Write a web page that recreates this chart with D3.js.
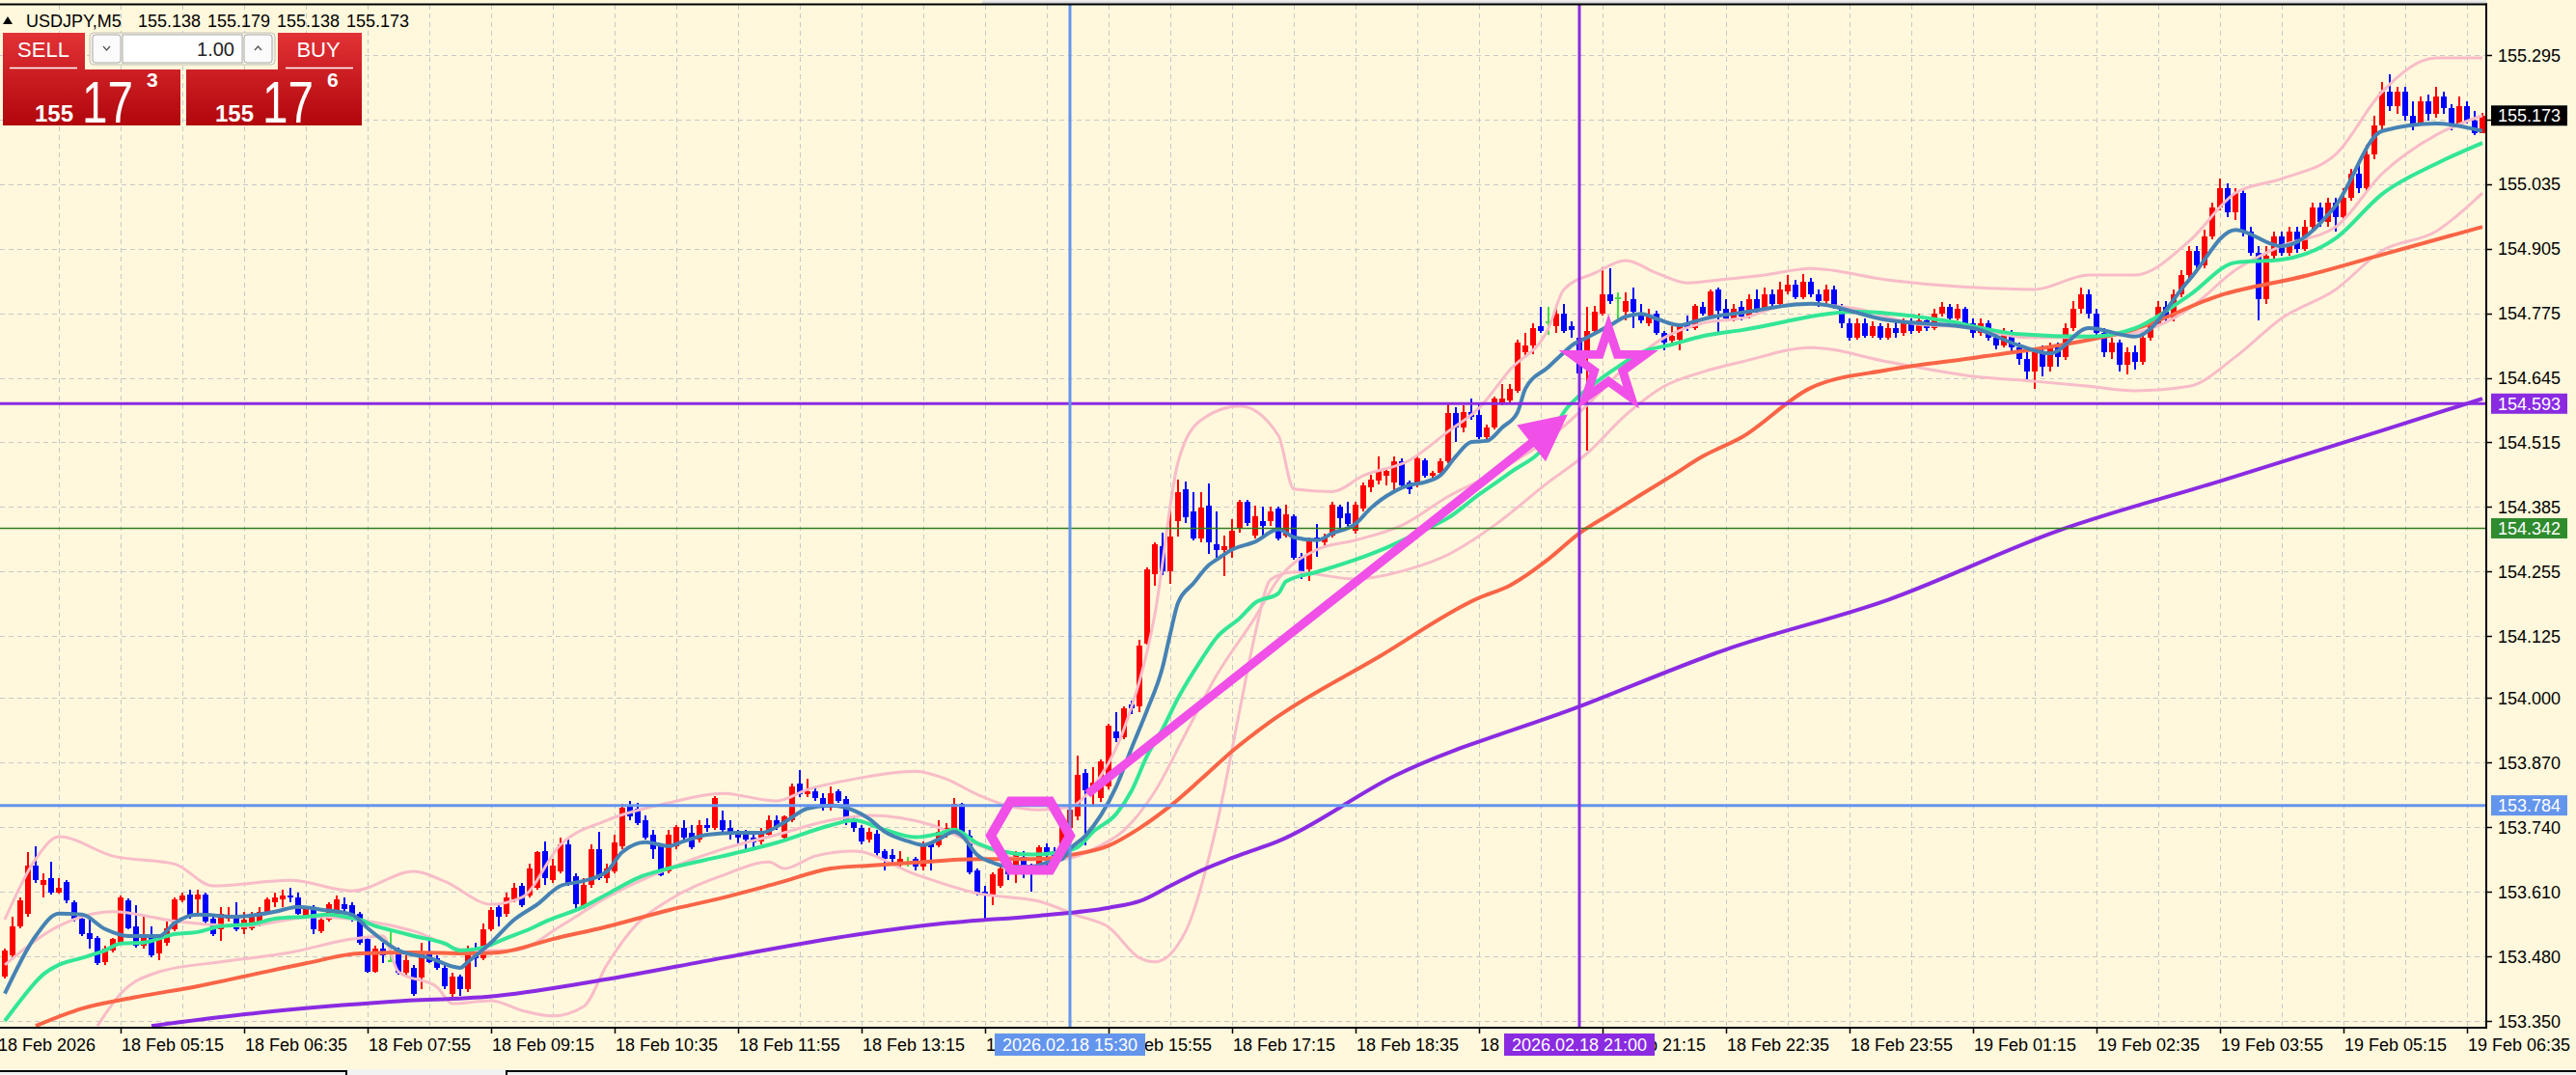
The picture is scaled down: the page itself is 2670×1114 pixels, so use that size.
<!DOCTYPE html>
<html><head><meta charset="utf-8">
<script src="https://cdn.jsdelivr.net/npm/d3@7"></script>
<style>html,body{margin:0;padding:0;background:#FFF8DC;overflow:hidden}text{font-family:"Liberation Sans",Arial,sans-serif}</style>
</head><body><svg id="c" width="2670" height="1114"></svg>
<script>
// ---------------- DATA ----------------
const symbol = "USDJPY,M5";
const headerPrices = ["155.138","155.179","155.138","155.173"];
const priceTicks = [155.295,155.165,155.035,154.905,154.775,154.645,154.515,154.385,154.255,154.125,154.000,153.870,153.740,153.610,153.480,153.350];
const timeTickBars = [-1,15,31,47,63,79,95,111,127,143,159,175,191,207,223,239,255,271,287,303,319];
const timeTickLabels = ["18 Feb 2026","18 Feb 05:15","18 Feb 06:35","18 Feb 07:55","18 Feb 09:15","18 Feb 10:35","18 Feb 11:55","18 Feb 13:15","18 Feb 14:35","18 Feb 15:55","18 Feb 17:15","18 Feb 18:35","18 Feb 19:55","18 Feb 21:15","18 Feb 22:35","18 Feb 23:55","19 Feb 01:15","19 Feb 02:35","19 Feb 03:55","19 Feb 05:15","19 Feb 06:35"];

const open = [
153.440,153.483,153.541,153.566,153.663,153.624,153.638,153.609,153.630,153.589,
153.556,153.527,153.517,153.469,153.492,153.508,153.593,153.541,153.502,153.525,
153.486,153.508,153.535,153.593,153.605,153.595,153.605,153.556,153.535,153.556,
153.564,153.535,153.537,153.547,153.570,153.589,153.595,153.603,153.599,153.560,
153.580,153.531,153.554,153.560,153.585,153.584,153.566,153.515,153.449,153.496,
153.473,153.488,153.448,153.457,153.438,153.488,153.477,153.457,153.405,153.440,
153.415,153.492,153.477,153.535,153.580,153.566,153.595,153.622,153.603,153.618,
153.692,153.634,153.652,153.706,153.642,153.580,153.624,153.696,153.638,153.652,
153.702,153.784,153.778,153.754,153.725,153.702,153.652,153.702,153.739,153.729,
153.716,153.745,153.739,153.754,153.739,153.725,153.725,153.720,153.712,153.725,
153.754,153.720,153.754,153.828,153.807,153.813,153.799,153.780,153.813,153.797,
153.754,153.739,153.716,153.727,153.692,153.685,153.669,153.671,153.677,153.661,
153.708,153.704,153.727,153.731,153.788,153.723,153.654,153.611,153.603,153.622,
153.657,153.661,153.681,153.661,153.661,153.700,153.692,153.677,153.739,153.761,
153.850,153.822,153.799,153.822,153.933,153.922,153.988,153.984,154.110,154.250,
154.306,154.256,154.357,154.421,154.376,154.322,154.388,154.310,154.299,154.299,
154.341,154.396,154.328,154.357,154.357,154.382,154.328,154.367,154.285,154.260,
154.324,154.314,154.328,154.386,154.372,154.337,154.382,154.425,154.439,154.448,
154.435,154.477,154.435,154.431,154.479,154.448,154.454,154.477,154.574,154.545,
154.576,154.571,154.526,154.545,154.596,154.600,154.619,154.697,154.710,154.749,
154.759,154.749,154.775,154.749,154.726,154.693,154.740,154.775,154.813,154.808,
154.778,154.804,154.775,154.755,154.775,154.736,154.720,154.722,154.755,154.745,
154.788,154.771,154.823,154.784,154.765,154.788,154.769,154.804,154.784,154.813,
154.794,154.819,154.833,154.808,154.839,154.813,154.800,154.823,154.788,154.755,
154.726,154.755,154.730,154.749,154.726,154.745,154.736,154.755,154.740,154.761,
154.745,154.775,154.788,154.765,154.784,154.755,154.736,154.755,154.726,154.710,
154.736,154.707,154.683,154.658,154.697,154.668,154.707,154.687,154.745,154.784,
154.813,154.775,154.736,154.697,154.716,154.672,154.697,154.677,154.726,154.755,
154.788,154.765,154.813,154.852,154.901,154.872,154.930,154.988,155.027,154.979,
155.017,154.940,154.897,154.804,154.891,154.930,154.897,154.940,154.905,154.949,
154.988,154.959,154.998,154.969,155.008,155.056,155.027,155.095,155.153,155.221,
155.192,155.221,155.173,155.157,155.202,155.177,155.212,155.188,155.153,155.192,
155.163,155.138];
const high = [
153.496,153.560,153.599,153.690,153.702,153.648,153.671,153.638,153.634,153.593,
153.560,153.554,153.521,153.502,153.517,153.603,153.597,153.584,153.564,153.541,
153.521,153.550,153.599,153.609,153.615,153.615,153.609,153.560,153.580,153.580,
153.589,153.570,153.570,153.580,153.599,153.609,153.615,153.618,153.609,153.580,
153.584,153.560,153.589,153.603,153.599,153.589,153.570,153.521,153.502,153.508,
153.531,153.498,153.483,153.463,153.508,153.521,153.483,153.463,153.448,153.444,
153.502,153.508,153.547,153.580,153.584,153.609,153.628,153.628,153.667,153.692,
153.712,153.677,153.720,153.716,153.648,153.638,153.706,153.731,153.667,153.725,
153.788,153.793,153.790,153.764,153.735,153.706,153.735,153.745,153.754,153.745,
153.754,153.758,153.803,153.774,153.754,153.735,153.735,153.731,153.739,153.764,
153.764,153.764,153.828,153.856,153.838,153.822,153.809,153.822,153.817,153.803,
153.764,153.745,153.739,153.735,153.696,153.696,153.692,153.681,153.681,153.712,
153.712,153.754,153.749,153.799,153.790,153.735,153.657,153.622,153.650,153.661,
153.667,153.692,153.692,153.667,153.704,153.708,153.700,153.758,153.807,153.885,
153.857,153.861,153.877,153.949,153.972,153.984,153.995,154.118,154.264,154.314,
154.334,154.396,154.440,154.437,154.415,154.415,154.433,154.376,154.328,154.361,
154.400,154.400,154.388,154.386,154.386,154.386,154.390,154.370,154.293,154.324,
154.351,154.332,154.396,154.390,154.396,154.396,154.435,154.450,154.487,154.464,
154.487,154.483,154.438,154.487,154.483,154.458,154.483,154.596,154.586,154.590,
154.604,154.596,154.551,154.607,154.633,154.633,154.722,154.736,154.755,154.788,
154.788,154.788,154.794,154.759,154.808,154.788,154.790,154.868,154.866,154.817,
154.817,154.827,154.794,154.784,154.780,154.740,154.749,154.755,154.771,154.794,
154.798,154.823,154.827,154.804,154.794,154.800,154.813,154.823,154.827,154.823,
154.839,154.852,154.843,154.854,154.846,154.823,154.833,154.831,154.794,154.765,
154.765,154.765,154.759,154.755,154.755,154.757,154.765,154.765,154.775,154.769,
154.784,154.798,154.794,154.794,154.788,154.765,154.765,154.761,154.736,154.745,
154.742,154.716,154.697,154.707,154.710,154.716,154.716,154.755,154.800,154.827,
154.823,154.784,154.745,154.726,154.722,154.707,154.710,154.736,154.765,154.800,
154.800,154.823,154.862,154.911,154.911,154.944,154.998,155.047,155.037,155.027,
155.023,154.949,154.911,154.911,154.940,154.940,154.949,154.949,154.963,154.998,
154.998,155.008,155.008,155.027,155.066,155.076,155.115,155.173,155.241,155.256,
155.231,155.231,155.202,155.212,155.216,155.231,155.221,155.196,155.212,155.202,
155.183,155.179];
const low = [
153.436,153.479,153.537,153.560,153.628,153.599,153.605,153.607,153.587,153.550,
153.521,153.496,153.463,153.463,153.488,153.506,153.535,153.498,153.496,153.479,
153.473,153.502,153.531,153.589,153.556,153.560,153.547,153.521,153.512,153.550,
153.531,153.525,153.533,153.541,153.566,153.580,153.580,153.589,153.564,153.556,
153.525,153.527,153.550,153.556,153.570,153.550,153.504,153.448,153.448,153.467,
153.469,153.444,153.440,153.401,153.415,153.467,153.453,153.415,153.391,153.401,
153.409,153.459,153.473,153.531,153.541,153.560,153.589,153.580,153.599,153.615,
153.624,153.628,153.648,153.622,153.576,153.576,153.618,153.634,153.628,153.648,
153.696,153.754,153.745,153.716,153.677,153.642,153.648,153.696,153.712,153.696,
153.710,153.731,153.735,153.725,153.716,153.706,153.696,153.700,153.706,153.720,
153.735,153.716,153.751,153.801,153.801,153.793,153.774,153.774,153.790,153.745,
153.731,153.706,153.710,153.681,153.654,153.669,153.661,153.661,153.654,153.654,
153.654,153.700,153.720,153.727,153.723,153.646,153.603,153.554,153.584,153.618,
153.634,153.628,153.638,153.611,153.657,153.661,153.671,153.673,153.735,153.754,
153.704,153.784,153.792,153.817,153.912,153.918,153.968,153.972,154.108,154.227,
154.248,154.231,154.326,154.353,154.318,154.314,154.291,154.279,154.246,154.283,
154.334,154.347,154.322,154.322,154.347,154.318,154.324,154.279,154.240,154.236,
154.285,154.308,154.324,154.343,154.347,154.332,154.376,154.415,154.431,154.429,
154.419,154.425,154.411,154.425,154.444,154.442,154.448,154.473,154.516,154.536,
154.561,154.522,154.516,154.541,154.590,154.596,154.615,154.691,154.693,154.736,
154.732,154.736,154.736,154.726,154.629,154.499,154.736,154.771,154.794,154.759,
154.761,154.745,154.755,154.749,154.732,154.701,154.716,154.701,154.740,154.742,
154.771,154.765,154.736,154.759,154.759,154.761,154.765,154.775,154.780,154.788,
154.788,154.813,154.804,154.804,154.808,154.788,154.794,154.784,154.745,154.720,
154.722,154.726,154.726,154.722,154.722,154.726,154.730,154.734,154.736,154.740,
154.742,154.769,154.759,154.761,154.749,154.726,154.730,154.720,154.703,154.707,
154.697,154.672,154.639,154.623,154.648,154.658,154.668,154.681,154.740,154.775,
154.765,154.730,154.687,154.683,154.658,154.652,154.662,154.672,154.720,154.749,
154.755,154.759,154.808,154.846,154.862,154.866,154.924,154.982,154.969,154.963,
154.930,154.891,154.761,154.794,154.881,154.891,154.891,154.897,154.901,154.940,
154.949,154.949,154.940,154.963,155.002,155.017,155.021,155.085,155.144,155.183,
155.177,155.163,155.144,155.153,155.163,155.169,155.177,155.144,155.149,155.157,
155.134,155.138];
const close = [
153.492,153.541,153.593,153.663,153.634,153.634,153.609,153.618,153.593,153.556,
153.525,153.515,153.467,153.496,153.515,153.599,153.537,153.502,153.517,153.483,
153.515,153.537,153.595,153.603,153.560,153.605,153.550,153.525,153.566,153.564,
153.535,153.554,153.560,153.570,153.595,153.599,153.603,153.599,153.566,153.576,
153.535,153.554,153.585,153.595,153.576,153.556,153.508,153.449,153.496,153.483,
153.473,153.448,153.473,153.405,153.488,153.469,153.457,153.420,153.440,153.415,
153.492,153.477,153.535,153.574,153.560,153.599,153.618,153.584,153.657,153.690,
153.638,153.663,153.706,153.628,153.585,153.624,153.696,153.638,153.657,153.710,
153.780,153.761,153.749,153.720,153.696,153.644,153.725,153.741,153.720,153.700,
153.745,153.739,153.799,153.735,153.725,153.720,153.716,153.710,153.729,153.754,
153.741,153.761,153.822,153.807,153.813,153.799,153.780,153.809,153.793,153.754,
153.739,153.712,153.731,153.688,153.677,153.677,153.677,153.671,153.661,153.708,
153.700,153.731,153.739,153.788,153.727,153.650,153.607,153.603,153.646,153.657,
153.646,153.685,153.661,153.657,153.700,153.685,153.677,153.754,153.776,153.846,
153.815,153.830,153.873,153.945,153.920,153.980,153.980,154.106,154.260,154.310,
154.256,154.326,154.415,154.365,154.322,154.384,154.314,154.299,154.306,154.337,
154.396,154.353,154.367,154.347,154.376,154.322,154.370,154.283,154.254,154.318,
154.318,154.324,154.390,154.363,154.351,154.390,154.429,154.441,154.458,154.458,
154.477,154.429,154.421,154.483,154.448,154.454,154.477,154.574,154.545,154.576,
154.567,154.526,154.545,154.604,154.604,154.623,154.716,154.710,154.745,154.740,
154.759,154.775,154.740,154.742,154.654,154.740,154.778,154.813,154.800,154.808,
154.800,154.778,154.761,154.769,154.736,154.716,154.730,154.749,154.745,154.790,
154.775,154.819,154.780,154.765,154.784,154.769,154.804,154.784,154.813,154.794,
154.823,154.833,154.808,154.839,154.813,154.800,154.823,154.788,154.755,154.726,
154.755,154.730,154.749,154.726,154.745,154.736,154.755,154.740,154.761,154.745,
154.775,154.788,154.765,154.784,154.755,154.736,154.755,154.726,154.710,154.736,
154.707,154.683,154.658,154.697,154.668,154.707,154.687,154.745,154.784,154.813,
154.775,154.736,154.697,154.716,154.672,154.697,154.677,154.726,154.755,154.788,
154.765,154.813,154.852,154.901,154.872,154.930,154.988,155.027,154.979,155.017,
154.940,154.897,154.804,154.891,154.930,154.897,154.940,154.905,154.949,154.988,
154.959,154.998,154.969,155.008,155.056,155.027,155.095,155.153,155.221,155.192,
155.221,155.173,155.157,155.202,155.177,155.212,155.188,155.153,155.192,155.163,
155.138,155.173];

// indicator lines: [bar index, price]
const maFast = [[0,153.405],[4,153.521],[7,153.566],[10,153.564],[13,153.535],[16,153.521],[20,153.521],[22,153.547],[25,153.564],[30,153.560],[35,153.570],[38,153.580],[41,153.574],[45,153.564],[47,153.537],[51,153.492],[55,153.477],[59,153.457],[60,153.469],[63,153.508],[66,153.554],[69,153.585],[72,153.622],[75,153.632],[78,153.651],[80,153.690],[83,153.710],[86,153.702],[88,153.712],[91,153.725],[95,153.729],[98,153.729],[101,153.750],[104,153.778],[107,153.784],[110,153.774],[112,153.757],[114,153.731],[117,153.712],[119,153.704],[121,153.716],[123,153.731],[124,153.723],[126,153.684],[128,153.669],[130,153.661],[133,153.661],[135,153.669],[137,153.676],[138,153.696],[140,153.723],[142,153.764],[144,153.822],[146,153.900],[148,153.976],[150,154.062],[151,154.130],[152,154.192],[154,154.231],[156,154.268],[157,154.279],[159,154.299],[162,154.315],[165,154.340],[167,154.324],[170,154.318],[172,154.332],[175,154.351],[177,154.383],[180,154.416],[182,154.429],[184,154.435],[186,154.449],[188,154.487],[190,154.516],[192,154.518],[194,154.545],[196,154.576],[197,154.623],[200,154.667],[202,154.696],[203,154.710],[205,154.726],[208,154.751],[210,154.768],[212,154.774],[214,154.764],[217,154.751],[219,154.759],[222,154.770],[224,154.774],[234,154.794],[244,154.761],[255,154.745],[261,154.710],[265,154.694],[270,154.745],[276,154.728],[283,154.842],[289,154.943],[295,154.910],[302,154.992],[308,155.142],[315,155.157],[321,155.142]];
const maMid = [[0,153.350],[2,153.391],[5,153.444],[7,153.463],[10,153.477],[13,153.492],[15,153.506],[18,153.508],[22,153.525],[25,153.529],[28,153.541],[32,153.545],[35,153.556],[39,153.560],[42,153.564],[44,153.560],[46,153.554],[48,153.541],[50,153.533],[53,153.521],[57,153.506],[59,153.492],[62,153.498],[65,153.517],[68,153.535],[70,153.550],[75,153.580],[78,153.605],[82,153.638],[86,153.657],[93,153.682],[100,153.709],[107,153.744],[110,153.754],[114,153.735],[118,153.720],[121,153.727],[123,153.735],[126,153.708],[129,153.692],[133,153.685],[136,153.688],[139,153.700],[141,153.731],[144,153.767],[146,153.814],[148,153.884],[150,153.938],[152,154.000],[155,154.077],[157,154.122],[160,154.161],[162,154.192],[165,154.211],[166,154.235],[170,154.254],[175,154.279],[179,154.303],[183,154.332],[187,154.363],[191,154.410],[195,154.454],[200,154.518],[202,154.576],[204,154.609],[206,154.634],[209,154.667],[212,154.696],[216,154.712],[220,154.729],[225,154.741],[240,154.778],[251,154.761],[261,154.733],[270,154.728],[276,154.745],[283,154.811],[289,154.877],[295,154.883],[302,154.926],[308,155.015],[315,155.076],[321,155.118]];
const maSlow = [[4,153.340],[10,153.375],[17,153.398],[25,153.420],[32,153.443],[39,153.466],[46,153.486],[53,153.488],[60,153.486],[64,153.488],[71,153.515],[78,153.540],[86,153.573],[93,153.598],[100,153.627],[107,153.657],[112,153.663],[118,153.669],[126,153.676],[134,153.676],[138,153.684],[143,153.703],[147,153.738],[151,153.783],[155,153.837],[159,153.893],[164,153.953],[178,154.083],[191,154.202],[195,154.227],[200,154.280],[204,154.332],[208,154.371],[212,154.410],[216,154.448],[220,154.487],[225,154.525],[234,154.625],[244,154.661],[255,154.685],[266,154.710],[276,154.743],[287,154.811],[298,154.850],[308,154.893],[321,154.949]];
const maLong = [[19,153.340],[35,153.370],[50,153.389],[64,153.401],[78,153.434],[93,153.477],[110,153.523],[122,153.547],[134,153.562],[143,153.578],[147,153.591],[151,153.622],[155,153.653],[160,153.684],[165,153.712],[180,153.843],[204,153.983],[223,154.098],[244,154.198],[266,154.337],[287,154.437],[308,154.539],[321,154.603]];
const bbUpper = [[0,153.554],[4,153.676],[7,153.721],[14,153.682],[22,153.666],[27,153.622],[37,153.633],[45,153.612],[53,153.651],[57,153.631],[63,153.585],[67,153.599],[72,153.705],[78,153.754],[86,153.789],[93,153.808],[100,153.793],[104,153.816],[110,153.837],[118,153.853],[122,153.837],[126,153.806],[130,153.783],[134,153.775],[138,153.781],[141,153.822],[145,153.938],[149,154.169],[152,154.475],[155,154.560],[160,154.588],[165,154.529],[167,154.421],[172,154.416],[176,154.448],[182,154.479],[187,154.537],[191,154.584],[195,154.661],[200,154.745],[202,154.823],[206,154.856],[210,154.881],[214,154.856],[218,154.836],[222,154.842],[228,154.852],[234,154.865],[244,154.842],[255,154.827],[263,154.823],[270,154.852],[276,154.852],[283,154.920],[289,155.017],[295,155.046],[302,155.095],[308,155.221],[315,155.289],[321,155.289]];
const bbMiddle = [[0,153.463],[7,153.541],[14,153.570],[22,153.551],[31,153.541],[40,153.560],[47,153.551],[53,153.531],[60,153.492],[66,153.492],[72,153.541],[78,153.599],[86,153.657],[93,153.696],[100,153.725],[107,153.754],[112,153.764],[120,153.745],[126,153.705],[132,153.676],[137,153.676],[141,153.696],[145,153.734],[149,153.812],[153,153.929],[157,154.046],[162,154.163],[165,154.240],[170,154.299],[175,154.318],[181,154.348],[187,154.406],[193,154.454],[200,154.522],[205,154.590],[210,154.667],[215,154.726],[220,154.755],[225,154.765],[232,154.794],[240,154.784],[247,154.755],[255,154.745],[262,154.726],[268,154.726],[276,154.736],[283,154.784],[289,154.862],[295,154.911],[302,154.949],[308,155.056],[315,155.134],[321,155.173]];
const bbLower = [[12,153.340],[15,153.405],[20,153.449],[28,153.469],[37,153.488],[45,153.515],[49,153.521],[51,153.449],[56,153.418],[58,153.385],[63,153.391],[67,153.371],[71,153.360],[75,153.379],[78,153.463],[82,153.547],[86,153.593],[93,153.643],[99,153.670],[101,153.657],[105,153.682],[110,153.692],[118,153.645],[126,153.607],[134,153.591],[139,153.562],[143,153.539],[147,153.477],[149,153.469],[153,153.531],[157,153.744],[160,153.976],[162,154.130],[164,154.239],[167,154.254],[175,154.240],[182,154.260],[187,154.289],[193,154.348],[200,154.435],[205,154.493],[210,154.570],[215,154.628],[220,154.657],[225,154.677],[234,154.706],[244,154.677],[255,154.648],[263,154.638],[270,154.628],[276,154.619],[283,154.628],[289,154.687],[295,154.765],[302,154.823],[308,154.901],[315,154.940],[321,155.017]];

const hLines = [
  {price:154.593, color:"#8A2BE2", width:3, label:"154.593"},
  {price:154.342, color:"#2E7D22", width:1.5, label:"154.342", labelBg:"#2E8B2E"},
  {price:153.784, color:"#6495ED", width:3, label:"153.784"}
];
const vLines = [
  {bar:138, color:"#6495ED", label:"2026.02.18 15:30"},
  {bar:204, color:"#8A2BE2", label:"2026.02.18 21:00"}
];
const bidPrice = 155.173;
const hexagonAt = {bar:133, price:153.723};
const arrowFrom = {bar:140.4, price:153.807};
const arrowTo = {bar:202.6, price:154.571};
const starAt = {bar:207.9, price:154.668};
const sellPrice = {big:"155", pips:"17", point:"3"};
const buyPrice = {big:"155", pips:"17", point:"6"};
const lotSize = "1.00";

// ---------------- DRAW ----------------
const svg = d3.select("#c");
const W = 2670, H = 1114;
const plotR = 2577, plotT = 5, plotB = 1065;
const n = open.length;
const x = d3.scaleLinear().domain([0, n - 1]).range([4, 2572]);
const y = d3.scaleLinear().domain([153.350, 155.295]).range([1058, 57]);
const MAG = "#F04FE8";

const defs = svg.append("defs");
defs.append("clipPath").attr("id","plot").append("rect").attr("x",0).attr("y",plotT).attr("width",plotR).attr("height",plotB-plotT);
const grad = defs.append("linearGradient").attr("id","redg").attr("x1",0).attr("y1",0).attr("x2",0).attr("y2",1);
grad.append("stop").attr("offset","0%").attr("stop-color","#E23236");
grad.append("stop").attr("offset","100%").attr("stop-color","#B0060C");
const sh = defs.append("linearGradient").attr("id","shadow").attr("x1",0).attr("y1",0).attr("x2",0).attr("y2",1);
sh.append("stop").attr("offset","0%").attr("stop-color","#F4F4F4");
sh.append("stop").attr("offset","100%").attr("stop-color","#BDBDBD");

svg.append("rect").attr("width",W).attr("height",H).attr("fill","#FFF8DC");
svg.append("rect").attr("x",1018).attr("y",0).attr("width",1559).attr("height",5).attr("fill","url(#shadow)");

const plot = svg.append("g").attr("clip-path","url(#plot)");
// grid
const gridV = d3.range(-1, n, 8);
plot.selectAll(".gv").data(gridV).join("line")
  .attr("x1",d=>Math.round(x(d))+1.5).attr("x2",d=>Math.round(x(d))+1.5)
  .attr("y1",plotT).attr("y2",plotB)
  .attr("stroke","#C8C8C8").attr("stroke-width",1).attr("stroke-dasharray","5,4");
plot.selectAll(".gh").data(priceTicks).join("line")
  .attr("x1",0).attr("x2",plotR)
  .attr("y1",d=>Math.round(y(d))+0.5).attr("y2",d=>Math.round(y(d))+0.5)
  .attr("stroke","#C8C8C8").attr("stroke-width",1).attr("stroke-dasharray","5,4");

// candles
const bars = d3.range(n).map(i=>({i,o:open[i],h:high[i],l:low[i],c:close[i]}));
const col = d => d.c > d.o ? "#FF0000" : (d.c < d.o ? "#0000FF" : "#44DD44");
const cg = plot.append("g").attr("shape-rendering","crispEdges");
cg.selectAll(".wick").data(bars).join("rect")
  .attr("x",d=>Math.round(x(d.i))).attr("width",2)
  .attr("y",d=>y(d.h)).attr("height",d=>Math.max(1,y(d.l)-y(d.h)))
  .attr("fill",col);
cg.selectAll(".body").data(bars).join("rect")
  .attr("x",d=>Math.round(x(d.i))-2).attr("width",6)
  .attr("y",d=>y(Math.max(d.o,d.c))).attr("height",d=>Math.max(2,Math.abs(y(d.o)-y(d.c))))
  .attr("fill",col);

// indicators
const line = d3.line().x(d=>x(d[0])+1).y(d=>y(d[1])).curve(d3.curveMonotoneX);
const ind = [
  [bbUpper,"#F8BCC8",3],[bbMiddle,"#F8BCC8",3],[bbLower,"#F8BCC8",3],
  [maLong,"#8A2BE2",4],[maSlow,"#FA6446",4],[maMid,"#32E696",4],[maFast,"#4682B4",4]
];
ind.forEach(([data,c,w])=>{
  plot.append("path").attr("d",line(data)).attr("fill","none").attr("stroke",c).attr("stroke-width",w).attr("stroke-linejoin","round");
});

// object lines
hLines.forEach(h=>{
  plot.append("line").attr("x1",0).attr("x2",plotR).attr("y1",y(h.price)).attr("y2",y(h.price))
    .attr("stroke",h.color).attr("stroke-width",h.width);
});
vLines.forEach(v=>{
  plot.append("line").attr("x1",x(v.bar)+1).attr("x2",x(v.bar)+1).attr("y1",plotT).attr("y2",plotB)
    .attr("stroke",v.color).attr("stroke-width",3);
});

// annotations
const hx = x(hexagonAt.bar), hy = y(hexagonAt.price), hr = 41;
const hexPts = d3.range(6).map(k=>{const a=Math.PI/3*k; return [hx+hr*Math.cos(a), hy+hr*Math.sin(a)];});
plot.append("polygon").attr("points",hexPts.map(p=>p.join(",")).join(" "))
  .attr("fill","none").attr("stroke",MAG).attr("stroke-width",10).attr("stroke-linejoin","miter");

const ax0 = x(arrowFrom.bar), ay0 = y(arrowFrom.price), ax1 = x(arrowTo.bar), ay1 = y(arrowTo.price);
const dx = ax1-ax0, dy = ay1-ay0, L = Math.hypot(dx,dy), ux = dx/L, uy = dy/L;
const headLen = 48, headHalf = 24;
const bx = ax1 - ux*headLen, by = ay1 - uy*headLen;
plot.append("line").attr("x1",ax0).attr("y1",ay0).attr("x2",bx+ux*4).attr("y2",by+uy*4)
  .attr("stroke",MAG).attr("stroke-width",9);
plot.append("polygon").attr("points",[[ax1,ay1],[bx-uy*headHalf,by+ux*headHalf],[bx+uy*headHalf,by-ux*headHalf]].map(p=>p.join(",")).join(" "))
  .attr("fill",MAG);

const sx = x(starAt.bar), sy = y(starAt.price), R = 40, r = 15.5;
const starPts = d3.range(10).map(k=>{const a=-Math.PI/2+k*Math.PI/5; const rr = k%2===0?R:r; return [sx+rr*Math.cos(a), sy+rr*Math.sin(a)];});
plot.append("polygon").attr("points",starPts.map(p=>p.join(",")).join(" "))
  .attr("fill","none").attr("stroke",MAG).attr("stroke-width",9).attr("stroke-linejoin","miter").attr("stroke-miterlimit",10);

// frame
svg.append("line").attr("x1",0).attr("x2",plotR+1).attr("y1",plotT-0.5).attr("y2",plotT-0.5).attr("stroke","#000").attr("stroke-width",2);
svg.append("line").attr("x1",0).attr("x2",plotR+1).attr("y1",plotB).attr("y2",plotB).attr("stroke","#000").attr("stroke-width",2);
svg.append("line").attr("x1",plotR).attr("x2",plotR).attr("y1",plotT-1.5).attr("y2",plotB+1).attr("stroke","#000").attr("stroke-width",2);

// price axis
const fmt = d3.format(".3f");
svg.selectAll(".pt").data(priceTicks).join("line")
  .attr("x1",plotR).attr("x2",plotR+6).attr("y1",d=>Math.round(y(d))+0.5).attr("y2",d=>Math.round(y(d))+0.5)
  .attr("stroke","#000").attr("stroke-width",1.5);
svg.selectAll(".pl").data(priceTicks).join("text")
  .attr("x",2589).attr("y",d=>y(d)+6.5).attr("font-size",18).attr("fill","#000").text(d=>fmt(d));

// time axis
svg.selectAll(".tt").data(timeTickBars).join("line")
  .attr("x1",d=>Math.round(x(d))+1.5).attr("x2",d=>Math.round(x(d))+1.5).attr("y1",plotB).attr("y2",plotB+6)
  .attr("stroke","#000").attr("stroke-width",1.5);
svg.selectAll(".tl").data(timeTickBars).join("text")
  .attr("x",d=>x(d)+2).attr("y",1089).attr("font-size",18).attr("fill","#000")
  .text((d,k)=>timeTickLabels[k]);

// highlighted labels
function priceLabel(p, bg, txt){
  svg.append("rect").attr("x",2582).attr("y",y(p)-10.5).attr("width",79).attr("height",21).attr("fill",bg);
  svg.append("text").attr("x",2589).attr("y",y(p)+6.5).attr("font-size",18).attr("fill","#fff").text(txt);
}
priceLabel(bidPrice,"#000000",fmt(bidPrice));
hLines.forEach(h=>priceLabel(h.price, h.labelBg||h.color, h.label));
vLines.forEach(v=>{
  const cx = x(v.bar)+1;
  svg.append("rect").attr("x",cx-78).attr("y",1071).attr("width",156).attr("height",23).attr("fill",v.color);
  svg.append("text").attr("x",cx).attr("y",1089).attr("text-anchor","middle").attr("font-size",18).attr("fill","#fff").text(v.label);
});

// header
svg.append("path").attr("d","M3,25 L8,17 L13,25 Z").attr("fill","#000");
svg.append("text").attr("x",27).attr("y",28).attr("font-size",18).attr("fill","#000").text(symbol);
headerPrices.forEach((p,k)=>svg.append("text").attr("x",143+k*72).attr("y",28).attr("font-size",18).attr("fill","#000").text(p));

// one-click trading panel
svg.append("path").attr("d","M3,34 H88 V72 H187 V130 H3 Z").attr("fill","url(#redg)");
svg.append("path").attr("d","M288,34 H375 V130 H193 V72 H288 Z").attr("fill","url(#redg)");
svg.append("line").attr("x1",10).attr("x2",80).attr("y1",70.5).attr("y2",70.5).attr("stroke","#fff").attr("stroke-width",1.5);
svg.append("line").attr("x1",296).attr("x2",366).attr("y1",70.5).attr("y2",70.5).attr("stroke","#fff").attr("stroke-width",1.5);
svg.append("text").attr("x",45).attr("y",59).attr("text-anchor","middle").attr("font-size",22).attr("fill","#fff").text("SELL");
svg.append("text").attr("x",330).attr("y",59).attr("text-anchor","middle").attr("font-size",22).attr("fill","#fff").text("BUY");
svg.append("rect").attr("x",93).attr("y",34).attr("width",192).attr("height",33).attr("rx",4).attr("fill","#F7F3E6").attr("stroke","#C4C0B4");
svg.append("rect").attr("x",96).attr("y",36).attr("width",29).attr("height",29).attr("rx",3).attr("fill","#FBFBFB").attr("stroke","#A8A8A8");
svg.append("rect").attr("x",127).attr("y",36).attr("width",124).attr("height",29).attr("fill","#FFFFFF").attr("stroke","#A8A8A8");
svg.append("rect").attr("x",253).attr("y",36).attr("width",29).attr("height",29).attr("rx",3).attr("fill","#FBFBFB").attr("stroke","#A8A8A8");
svg.append("path").attr("d","M107,48 L110.5,52 L114,48").attr("fill","none").attr("stroke","#555").attr("stroke-width",1.3);
svg.append("path").attr("d","M264,52 L267.5,48 L271,52").attr("fill","none").attr("stroke","#555").attr("stroke-width",1.3);
svg.append("text").attr("x",243).attr("y",58).attr("text-anchor","end").attr("font-size",20).attr("fill","#222").text(lotSize);
function priceBox(p, x0){
  svg.append("text").attr("x",x0).attr("y",126).attr("font-size",24).attr("font-weight","bold").attr("fill","#fff").text(p.big);
  svg.append("text").attr("x",x0+49).attr("y",127).attr("font-size",62).attr("fill","#fff")
    .attr("textLength",53).attr("lengthAdjust","spacingAndGlyphs").text(p.pips);
  svg.append("text").attr("x",x0+116).attr("y",90).attr("font-size",21).attr("font-weight","bold").attr("fill","#fff").text(p.point);
}
priceBox(sellPrice, 36);
priceBox(buyPrice, 223);

// bottom tab strip
svg.append("rect").attr("x",0).attr("y",1108).attr("width",W).attr("height",6).attr("fill","#F2F2F2");
svg.append("path").attr("d","M0,1110 H359 V1114 M525,1114 V1110 H2670").attr("fill","none").attr("stroke","#000").attr("stroke-width",2);
</script></body></html>
